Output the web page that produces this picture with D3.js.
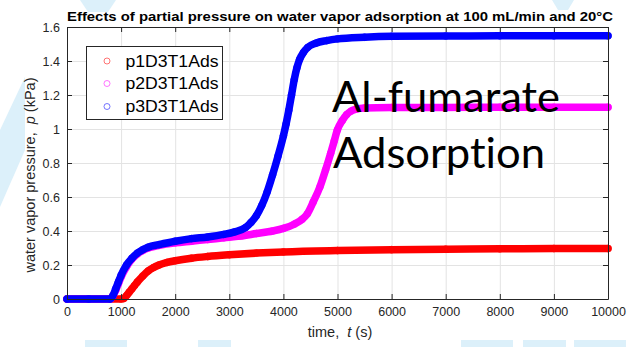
<!DOCTYPE html>
<html>
<head>
<meta charset="utf-8">
<script src="https://cdn.jsdelivr.net/npm/d3@7"></script>
<style>
  html, body { margin: 0; padding: 0; background: #fff; }
  svg { display: block; }
  text { font-family: "Liberation Sans", Arial, sans-serif; font-variant-ligatures: none; white-space: pre; }
</style>
</head>
<body>
<svg id="chart" width="628" height="347"></svg>
<script>
// Water vapor partial pressure at the adsorber outlet, 100 mL/min, 20 °C
const p1Time = [0, 400, 800, 1000, 1050, 1100, 1150, 1200, 1250, 1300, 1400, 1500, 1600, 1700, 1850, 2000, 2300, 2600, 3000, 3500, 4000, 5000, 6000, 7000, 8000, 9000, 10000];
const p1Pressure = [0, 0, 0, 0, 0.003, 0.02, 0.04, 0.06, 0.08, 0.10, 0.135, 0.165, 0.185, 0.20, 0.215, 0.225, 0.24, 0.25, 0.26, 0.27, 0.277, 0.285, 0.29, 0.293, 0.295, 0.297, 0.297];

const p2Time = [0, 400, 800, 850, 900, 950, 1000, 1100, 1200, 1300, 1400, 1500, 1700, 2000, 2300, 2600, 2900, 3200, 3500, 3800, 4000, 4200, 4350, 4440, 4550, 4676, 4780, 4874, 4940, 4997, 5089, 5170, 5250, 5350, 5500, 6000, 7000, 8000, 9000, 10000];
const p2Pressure = [0, 0, 0, 0.02, 0.05, 0.09, 0.13, 0.19, 0.235, 0.265, 0.285, 0.30, 0.315, 0.33, 0.34, 0.35, 0.36, 0.37, 0.385, 0.40, 0.415, 0.44, 0.47, 0.50, 0.57, 0.66, 0.76, 0.857, 0.93, 0.994, 1.05, 1.085, 1.105, 1.117, 1.123, 1.126, 1.127, 1.128, 1.128, 1.128];

const p3Time = [0, 400, 800, 850, 900, 950, 1000, 1100, 1200, 1300, 1400, 1500, 1700, 2000, 2300, 2600, 2900, 3100, 3300, 3400, 3500, 3600, 3700, 3800, 3900, 4000, 4050, 4100, 4150, 4200, 4250, 4300, 4370, 4450, 4600, 4800, 5000, 5500, 6000, 7000, 8000, 9000, 10000];
const p3Pressure = [0, 0, 0, 0.02, 0.06, 0.10, 0.14, 0.20, 0.24, 0.27, 0.29, 0.305, 0.32, 0.34, 0.355, 0.365, 0.38, 0.395, 0.42, 0.45, 0.49, 0.55, 0.63, 0.73, 0.84, 0.96, 1.03, 1.11, 1.20, 1.29, 1.36, 1.41, 1.45, 1.48, 1.505, 1.52, 1.53, 1.54, 1.545, 1.547, 1.548, 1.548, 1.548];

const seriesNames = ["p1D3T1Ads", "p2D3T1Ads", "p3D3T1Ads"];
const seriesColors = ["#ff0000", "#ff00ff", "#0000ff"];

const xTicks = [0, 1000, 2000, 3000, 4000, 5000, 6000, 7000, 8000, 9000, 10000];
const yTicks = [0, 0.2, 0.4, 0.6, 0.8, 1, 1.2, 1.4, 1.6];

const titleText = "Effects of partial pressure on water vapor adsorption at 100 mL/min and 20°C";
const noteLines = ["Al-fumarate", "Adsorption"];

const series = [
  { name: seriesNames[0], color: seriesColors[0], pts: p1Time.map((t, i) => [t, p1Pressure[i]]) },
  { name: seriesNames[1], color: seriesColors[1], pts: p2Time.map((t, i) => [t, p2Pressure[i]]) },
  { name: seriesNames[2], color: seriesColors[2], pts: p3Time.map((t, i) => [t, p3Pressure[i]]) }
];

const svg = d3.select("#chart");
const m = { left: 67, right: 608, top: 27, bottom: 299 };

// pale decorative shapes around the figure
const deco = svg.append("g").attr("fill", "#dcf0fa");
[
  [[0, 130], [25, 77], [25, 150], [0, 207]],
  [[80, 0], [116, 0], [108, 12], [88, 12]],
  [[552, 0], [574, 0], [568, 10], [558, 10]],
  [[85, 340], [127, 340], [127, 347], [85, 347]],
  [[198, 340], [231, 340], [231, 347], [198, 347]],
  [[461, 340], [513, 340], [513, 347], [461, 347]],
  [[523, 340], [566, 340], [566, 347], [523, 347]],
  [[574, 340], [626, 340], [626, 347], [574, 347]]
].forEach(p => deco.append("polygon").attr("points", p.map(d => d.join(",")).join(" ")));

const x = d3.scaleLinear().domain([0, 10000]).range([m.left, m.right]);
const y = d3.scaleLinear().domain([0, 1.6]).range([m.bottom, m.top]);

// axes background
svg.append("rect").attr("x", m.left).attr("y", m.top)
  .attr("width", m.right - m.left).attr("height", m.bottom - m.top).attr("fill", "#fff");

// grid
const grid = svg.append("g").attr("stroke", "#e3e3e3").attr("stroke-width", 1);
xTicks.forEach(t => grid.append("line").attr("x1", x(t) + 0.5).attr("x2", x(t) + 0.5).attr("y1", m.top).attr("y2", m.bottom));
yTicks.forEach(t => grid.append("line").attr("y1", Math.round(y(t)) + 0.5).attr("y2", Math.round(y(t)) + 0.5).attr("x1", m.left).attr("x2", m.right));

// series: dense circle markers rendered as a thick band
const line = d3.line().x(d => x(d[0])).y(d => y(d[1])).curve(d3.curveMonotoneX);
series.forEach(s => {
  const g = svg.append("g");
  g.append("path").attr("d", line(s.pts)).attr("fill", "none")
    .attr("stroke", s.color).attr("stroke-width", 7.5).attr("stroke-linecap", "round").attr("stroke-linejoin", "round");
  g.selectAll("circle").data(s.pts).join("circle")
    .attr("cx", d => x(d[0])).attr("cy", d => y(d[1])).attr("r", 3.4)
    .attr("fill", "none").attr("stroke", s.color).attr("stroke-width", 0.8);
});

// axis box with inward ticks (all four sides)
const axisColor = "#262626";
const ax = svg.append("g");
const xAxB = d3.axisBottom(x).tickValues(xTicks).tickSizeInner(-5).tickSizeOuter(0).tickPadding(8).tickFormat(d3.format("d"));
const xAxT = d3.axisTop(x).tickValues(xTicks).tickSizeInner(-5).tickSizeOuter(0).tickFormat("");
const yAxL = d3.axisLeft(y).tickValues(yTicks).tickSizeInner(-5).tickSizeOuter(0).tickPadding(7).tickFormat(d => d3.format("")(+d.toFixed(1)));
const yAxR = d3.axisRight(y).tickValues(yTicks).tickSizeInner(-5).tickSizeOuter(0).tickFormat("");
ax.append("g").attr("transform", `translate(0,${m.bottom})`).call(xAxB);
ax.append("g").attr("transform", `translate(0,${m.top})`).call(xAxT);
ax.append("g").attr("transform", `translate(${m.left},0)`).call(yAxL);
ax.append("g").attr("transform", `translate(${m.right},0)`).call(yAxR);
ax.selectAll("path.domain").attr("stroke", axisColor);
ax.selectAll(".tick line").attr("stroke", axisColor);
ax.selectAll(".tick text").attr("fill", "#262626").style("font-size", "12.5px").style("font-family", "'Liberation Sans', Arial, sans-serif");

// title
svg.append("text").attr("x", 340).attr("y", 21).attr("text-anchor", "middle")
  .attr("font-weight", "bold").attr("font-size", 12.5).attr("fill", "#000")
  .attr("textLength", 546).attr("lengthAdjust", "spacingAndGlyphs").text(titleText);

// axis labels
const xl = svg.append("text").attr("x", 340).attr("y", 337).attr("text-anchor", "middle")
  .attr("font-size", 14.5).attr("fill", "#262626");
xl.append("tspan").text("time,  ");
xl.append("tspan").attr("font-style", "italic").text("t");
xl.append("tspan").text(" (s)");

const yl = svg.append("text").attr("transform", "translate(35,175) rotate(-90)").attr("text-anchor", "middle")
  .attr("font-size", 14.5).attr("fill", "#262626");
yl.append("tspan").text("water vapor pressure,  ");
yl.append("tspan").attr("font-style", "italic").text("p");
yl.append("tspan").text(" (kPa)");

// legend
const lg = svg.append("g");
lg.append("rect").attr("x", 86.5).attr("y", 46.5).attr("width", 136).attr("height", 73)
  .attr("fill", "#fff").attr("stroke", axisColor).attr("stroke-width", 1);
const legendY = [61, 83.5, 106.5];
series.forEach((s, i) => {
  lg.append("circle").attr("cx", 107).attr("cy", legendY[i]).attr("r", 3)
    .attr("fill", "none").attr("stroke", s.color).attr("stroke-opacity", 0.6).attr("stroke-width", 0.9);
  lg.append("text").attr("x", 125.5).attr("y", legendY[i] + 5.5).attr("font-size", 16)
    .attr("fill", "#000").attr("textLength", 93).attr("lengthAdjust", "spacingAndGlyphs").text(s.name);
});

// annotation
const note = svg.append("g").attr("fill", "#000");
note.append("text").attr("x", 332).attr("y", 112).attr("font-size", 42)
  .attr("textLength", 228).attr("lengthAdjust", "spacingAndGlyphs")
  .style("font-family", "Lato, 'Open Sans', sans-serif").style("font-variant-ligatures", "none").text(noteLines[0]);
note.append("text").attr("x", 333).attr("y", 168).attr("font-size", 42)
  .attr("textLength", 212).attr("lengthAdjust", "spacingAndGlyphs")
  .style("font-family", "Lato, 'Open Sans', sans-serif").style("font-variant-ligatures", "none").text(noteLines[1]);
</script>
</body>
</html>
